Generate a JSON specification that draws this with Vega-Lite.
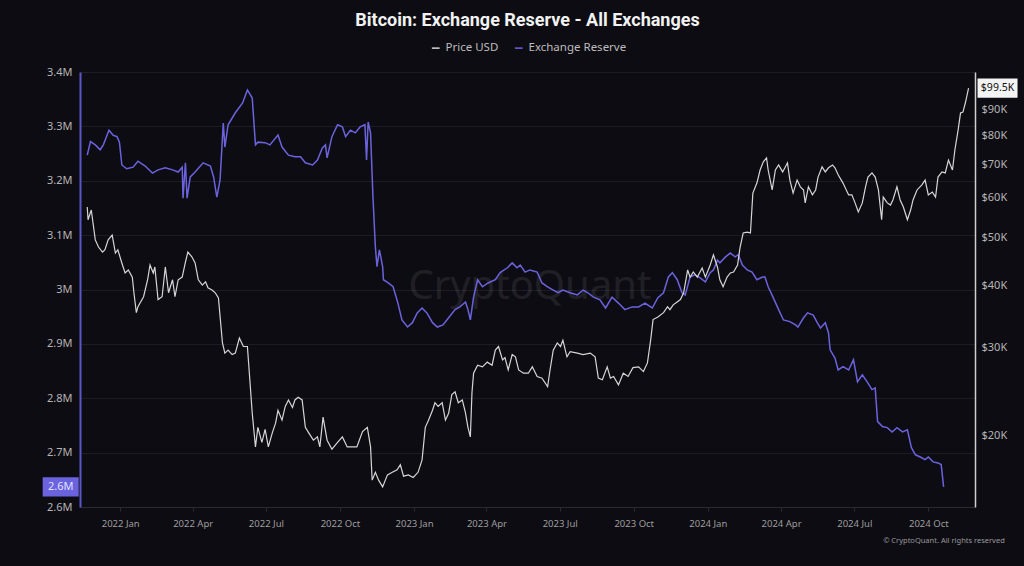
{
"$schema": "https://vega.github.io/schema/vega-lite/v6.json",
"width": 895, "height": 435,
"autosize": {"type": "none"},
"padding": {"left": 80, "top": 72, "right": 49, "bottom": 59},
"background": "#0d0c12",
"title": {"text": "Bitcoin: Exchange Reserve - All Exchanges", "color": "#f2f2f2", "fontSize": 18, "font": "Roboto", "fontWeight": "bold", "anchor": "middle", "offset": 12},
"config": {"view": {"stroke": null}},
"datasets": {
"r": [
{"t":"2021-11-21","v":3247000},{"t":"2021-11-25","v":3272000},{"t":"2021-12-01","v":3266000},{"t":"2021-12-07","v":3257000},{"t":"2021-12-11","v":3266000},{"t":"2021-12-18","v":3293000},{"t":"2021-12-23","v":3284000},{"t":"2021-12-28","v":3281000},{"t":"2021-12-31","v":3271000},
{"t":"2022-01-03","v":3229000},{"t":"2022-01-09","v":3222000},{"t":"2022-01-17","v":3225000},{"t":"2022-01-23","v":3236000},{"t":"2022-02-01","v":3227000},{"t":"2022-02-10","v":3214000},{"t":"2022-02-17","v":3220000},{"t":"2022-02-26","v":3224000},{"t":"2022-03-07","v":3220000},{"t":"2022-03-14","v":3216000},{"t":"2022-03-19","v":3225000},{"t":"2022-03-20","v":3168000},{"t":"2022-03-23","v":3233000},{"t":"2022-03-25","v":3168000},{"t":"2022-03-29","v":3207000},{"t":"2022-04-04","v":3216000},{"t":"2022-04-14","v":3233000},{"t":"2022-04-23","v":3227000},{"t":"2022-04-27","v":3207000},{"t":"2022-05-01","v":3170000},{"t":"2022-05-05","v":3201000},{"t":"2022-05-09","v":3306000},{"t":"2022-05-11","v":3262000},{"t":"2022-05-15","v":3303000},{"t":"2022-05-24","v":3325000},{"t":"2022-06-02","v":3343000},{"t":"2022-06-08","v":3367000},{"t":"2022-06-14","v":3352000},{"t":"2022-06-18","v":3266000},{"t":"2022-06-21","v":3271000},{"t":"2022-06-30","v":3270000},{"t":"2022-07-06","v":3266000},{"t":"2022-07-16","v":3284000},{"t":"2022-07-21","v":3262000},{"t":"2022-07-29","v":3247000},{"t":"2022-08-06","v":3244000},{"t":"2022-08-13","v":3244000},{"t":"2022-08-19","v":3233000},{"t":"2022-08-28","v":3229000},{"t":"2022-09-03","v":3238000},{"t":"2022-09-09","v":3260000},{"t":"2022-09-13","v":3266000},{"t":"2022-09-15","v":3242000},{"t":"2022-09-21","v":3281000},{"t":"2022-09-28","v":3303000},{"t":"2022-10-04","v":3299000},{"t":"2022-10-08","v":3281000},{"t":"2022-10-14","v":3293000},{"t":"2022-10-20","v":3288000},{"t":"2022-10-26","v":3299000},{"t":"2022-11-01","v":3303000},{"t":"2022-11-03","v":3238000},{"t":"2022-11-05","v":3308000},{"t":"2022-11-08","v":3288000},{"t":"2022-11-11","v":3170000},{"t":"2022-11-14","v":3078000},{"t":"2022-11-16","v":3042000},{"t":"2022-11-19","v":3073000},{"t":"2022-11-23","v":3042000},{"t":"2022-11-24","v":3018000},{"t":"2022-11-30","v":3012000},{"t":"2022-12-06","v":3005000},{"t":"2022-12-12","v":2975000},{"t":"2022-12-17","v":2944000},{"t":"2022-12-24","v":2931000},{"t":"2022-12-30","v":2939000},
{"t":"2023-01-05","v":2957000},{"t":"2023-01-11","v":2966000},{"t":"2023-01-17","v":2957000},{"t":"2023-01-24","v":2939000},{"t":"2023-01-30","v":2931000},{"t":"2023-02-06","v":2935000},{"t":"2023-02-13","v":2948000},{"t":"2023-02-21","v":2963000},{"t":"2023-02-27","v":2968000},{"t":"2023-03-06","v":2977000},{"t":"2023-03-09","v":2963000},{"t":"2023-03-12","v":2944000},{"t":"2023-03-16","v":2986000},{"t":"2023-03-21","v":3018000},{"t":"2023-03-27","v":3005000},{"t":"2023-04-03","v":3012000},{"t":"2023-04-12","v":3018000},{"t":"2023-04-18","v":3031000},{"t":"2023-04-27","v":3040000},{"t":"2023-05-03","v":3049000},{"t":"2023-05-09","v":3040000},{"t":"2023-05-13","v":3045000},{"t":"2023-05-19","v":3032000},{"t":"2023-05-25","v":3036000},{"t":"2023-06-03","v":3032000},{"t":"2023-06-09","v":3012000},{"t":"2023-06-16","v":3005000},{"t":"2023-06-23","v":2999000},{"t":"2023-06-29","v":2994000},{"t":"2023-07-05","v":2999000},{"t":"2023-07-14","v":2994000},{"t":"2023-07-23","v":2990000},{"t":"2023-07-30","v":2999000},{"t":"2023-08-05","v":2994000},{"t":"2023-08-12","v":2986000},{"t":"2023-08-20","v":2981000},{"t":"2023-08-27","v":2966000},{"t":"2023-09-04","v":2986000},{"t":"2023-09-12","v":2975000},{"t":"2023-09-20","v":2963000},{"t":"2023-09-29","v":2968000},{"t":"2023-10-07","v":2968000},{"t":"2023-10-15","v":2975000},{"t":"2023-10-24","v":2966000},{"t":"2023-10-31","v":2985000},{"t":"2023-11-07","v":2994000},{"t":"2023-11-13","v":3023000},{"t":"2023-11-18","v":3031000},{"t":"2023-11-24","v":3018000},{"t":"2023-11-30","v":2994000},{"t":"2023-12-04","v":2990000},{"t":"2023-12-10","v":3023000},{"t":"2023-12-16","v":3027000},{"t":"2023-12-23","v":3021000},{"t":"2023-12-29","v":3014000},
{"t":"2024-01-04","v":3031000},{"t":"2024-01-08","v":3036000},{"t":"2024-01-13","v":3054000},{"t":"2024-01-16","v":3049000},{"t":"2024-01-23","v":3060000},{"t":"2024-01-29","v":3067000},{"t":"2024-02-04","v":3060000},{"t":"2024-02-08","v":3064000},{"t":"2024-02-13","v":3045000},{"t":"2024-02-19","v":3036000},{"t":"2024-02-25","v":3032000},{"t":"2024-03-02","v":3018000},{"t":"2024-03-09","v":3023000},{"t":"2024-03-12","v":3023000},{"t":"2024-03-16","v":3005000},{"t":"2024-03-22","v":2986000},{"t":"2024-03-29","v":2963000},{"t":"2024-04-04","v":2944000},{"t":"2024-04-12","v":2941000},{"t":"2024-04-19","v":2935000},{"t":"2024-04-22","v":2931000},{"t":"2024-04-29","v":2948000},{"t":"2024-05-04","v":2957000},{"t":"2024-05-11","v":2953000},{"t":"2024-05-16","v":2939000},{"t":"2024-05-20","v":2929000},{"t":"2024-05-26","v":2939000},{"t":"2024-05-30","v":2920000},{"t":"2024-06-01","v":2889000},{"t":"2024-06-07","v":2874000},{"t":"2024-06-11","v":2852000},{"t":"2024-06-17","v":2858000},{"t":"2024-06-24","v":2852000},{"t":"2024-06-30","v":2871000},{"t":"2024-07-05","v":2830000},{"t":"2024-07-11","v":2843000},{"t":"2024-07-17","v":2830000},{"t":"2024-07-23","v":2816000},{"t":"2024-07-27","v":2819000},{"t":"2024-07-30","v":2757000},{"t":"2024-08-05","v":2748000},{"t":"2024-08-11","v":2746000},{"t":"2024-08-17","v":2738000},{"t":"2024-08-23","v":2746000},{"t":"2024-08-30","v":2738000},{"t":"2024-09-05","v":2742000},{"t":"2024-09-10","v":2709000},{"t":"2024-09-15","v":2696000},{"t":"2024-09-21","v":2692000},{"t":"2024-09-27","v":2687000},{"t":"2024-10-01","v":2692000},{"t":"2024-10-07","v":2683000},{"t":"2024-10-13","v":2681000},{"t":"2024-10-17","v":2678000},{"t":"2024-10-20","v":2637000}
],
"p": [
{"t":"2021-11-21","v":57500},{"t":"2021-11-22","v":54200},{"t":"2021-11-26","v":56700},{"t":"2021-12-01","v":49400},{"t":"2021-12-05","v":47800},{"t":"2021-12-10","v":46700},{"t":"2021-12-13","v":47200},{"t":"2021-12-17","v":49400},{"t":"2021-12-22","v":50500},{"t":"2021-12-26","v":46500},{"t":"2021-12-29","v":47200},
{"t":"2022-01-03","v":44400},{"t":"2022-01-07","v":42400},{"t":"2022-01-11","v":43000},{"t":"2022-01-16","v":41600},{"t":"2022-01-18","v":38700},{"t":"2022-01-21","v":35300},{"t":"2022-01-23","v":36300},{"t":"2022-01-30","v":38000},{"t":"2022-02-04","v":41100},{"t":"2022-02-07","v":44000},{"t":"2022-02-11","v":42400},{"t":"2022-02-13","v":43600},{"t":"2022-02-17","v":37500},{"t":"2022-02-22","v":38000},{"t":"2022-02-26","v":43600},{"t":"2022-03-02","v":38700},{"t":"2022-03-07","v":41100},{"t":"2022-03-10","v":38000},{"t":"2022-03-14","v":41100},{"t":"2022-03-19","v":41600},{"t":"2022-03-23","v":44600},{"t":"2022-03-26","v":46700},{"t":"2022-03-31","v":45700},{"t":"2022-04-04","v":44400},{"t":"2022-04-08","v":41100},{"t":"2022-04-13","v":40100},{"t":"2022-04-17","v":40700},{"t":"2022-04-20","v":39600},{"t":"2022-04-25","v":39200},{"t":"2022-04-29","v":38700},{"t":"2022-05-03","v":37800},{"t":"2022-05-08","v":30700},{"t":"2022-05-11","v":29300},{"t":"2022-05-15","v":29700},{"t":"2022-05-20","v":29100},{"t":"2022-05-24","v":29300},{"t":"2022-05-29","v":31400},{"t":"2022-06-03","v":30200},{"t":"2022-06-08","v":30200},{"t":"2022-06-11","v":25900},{"t":"2022-06-14","v":22200},{"t":"2022-06-18","v":19000},{"t":"2022-06-21","v":20800},{"t":"2022-06-26","v":19400},{"t":"2022-06-30","v":20600},{"t":"2022-07-04","v":19000},{"t":"2022-07-09","v":20300},{"t":"2022-07-13","v":21200},{"t":"2022-07-16","v":22500},{"t":"2022-07-21","v":21500},{"t":"2022-07-25","v":22900},{"t":"2022-07-29","v":23600},{"t":"2022-08-03","v":22800},{"t":"2022-08-06","v":23600},{"t":"2022-08-10","v":23900},{"t":"2022-08-15","v":23600},{"t":"2022-08-19","v":20800},{"t":"2022-08-23","v":20300},{"t":"2022-08-29","v":19600},{"t":"2022-09-03","v":19900},{"t":"2022-09-06","v":19000},{"t":"2022-09-10","v":21800},{"t":"2022-09-15","v":19600},{"t":"2022-09-21","v":18800},{"t":"2022-09-28","v":19400},{"t":"2022-10-04","v":19900},{"t":"2022-10-10","v":19000},{"t":"2022-10-16","v":19000},{"t":"2022-10-22","v":19000},{"t":"2022-10-29","v":20400},{"t":"2022-11-04","v":20800},{"t":"2022-11-08","v":19000},{"t":"2022-11-10","v":16300},{"t":"2022-11-14","v":16900},{"t":"2022-11-18","v":16300},{"t":"2022-11-23","v":15800},{"t":"2022-11-29","v":16700},{"t":"2022-12-05","v":16900},{"t":"2022-12-11","v":17100},{"t":"2022-12-15","v":17500},{"t":"2022-12-19","v":16600},{"t":"2022-12-25","v":16700},{"t":"2022-12-31","v":16500},
{"t":"2023-01-06","v":16900},{"t":"2023-01-11","v":17900},{"t":"2023-01-15","v":20800},{"t":"2023-01-19","v":21500},{"t":"2023-01-24","v":22500},{"t":"2023-01-27","v":23300},{"t":"2023-01-31","v":22900},{"t":"2023-02-05","v":23300},{"t":"2023-02-09","v":21500},{"t":"2023-02-13","v":22200},{"t":"2023-02-17","v":24200},{"t":"2023-02-21","v":24500},{"t":"2023-02-25","v":23300},{"t":"2023-03-02","v":23600},{"t":"2023-03-06","v":22200},{"t":"2023-03-09","v":20800},{"t":"2023-03-12","v":19900},{"t":"2023-03-14","v":24400},{"t":"2023-03-16","v":26700},{"t":"2023-03-21","v":27700},{"t":"2023-03-27","v":27500},{"t":"2023-04-02","v":28100},{"t":"2023-04-08","v":27700},{"t":"2023-04-12","v":29700},{"t":"2023-04-16","v":30200},{"t":"2023-04-21","v":28400},{"t":"2023-04-24","v":28700},{"t":"2023-04-28","v":27100},{"t":"2023-05-03","v":29100},{"t":"2023-05-07","v":28800},{"t":"2023-05-11","v":27100},{"t":"2023-05-17","v":26700},{"t":"2023-05-23","v":26700},{"t":"2023-05-28","v":27500},{"t":"2023-06-03","v":26300},{"t":"2023-06-09","v":26100},{"t":"2023-06-16","v":25100},{"t":"2023-06-19","v":27100},{"t":"2023-06-23","v":29700},{"t":"2023-06-28","v":30700},{"t":"2023-07-02","v":30200},{"t":"2023-07-05","v":31100},{"t":"2023-07-10","v":28800},{"t":"2023-07-14","v":29500},{"t":"2023-07-23","v":29300},{"t":"2023-07-30","v":29100},{"t":"2023-08-08","v":29300},{"t":"2023-08-14","v":28800},{"t":"2023-08-18","v":26100},{"t":"2023-08-23","v":25900},{"t":"2023-08-29","v":27500},{"t":"2023-09-02","v":26100},{"t":"2023-09-06","v":26300},{"t":"2023-09-12","v":25300},{"t":"2023-09-18","v":26700},{"t":"2023-09-24","v":26300},{"t":"2023-09-30","v":27400},{"t":"2023-10-07","v":27500},{"t":"2023-10-13","v":26900},{"t":"2023-10-18","v":28000},{"t":"2023-10-22","v":31100},{"t":"2023-10-25","v":34200},{"t":"2023-10-31","v":34600},{"t":"2023-11-07","v":35300},{"t":"2023-11-12","v":36300},{"t":"2023-11-15","v":35800},{"t":"2023-11-19","v":36600},{"t":"2023-11-24","v":37100},{"t":"2023-11-28","v":37500},{"t":"2023-12-02","v":38700},{"t":"2023-12-07","v":43000},{"t":"2023-12-10","v":41600},{"t":"2023-12-14","v":42600},{"t":"2023-12-19","v":41600},{"t":"2023-12-25","v":43400},{"t":"2023-12-29","v":41600},
{"t":"2024-01-04","v":44000},{"t":"2024-01-08","v":46100},{"t":"2024-01-13","v":43600},{"t":"2024-01-16","v":41100},{"t":"2024-01-20","v":39800},{"t":"2024-01-25","v":41600},{"t":"2024-01-29","v":42400},{"t":"2024-02-02","v":42600},{"t":"2024-02-07","v":44000},{"t":"2024-02-10","v":47600},{"t":"2024-02-14","v":51000},{"t":"2024-02-19","v":51200},{"t":"2024-02-23","v":51000},{"t":"2024-02-26","v":61300},{"t":"2024-03-02","v":64200},{"t":"2024-03-06","v":68200},{"t":"2024-03-10","v":70800},{"t":"2024-03-14","v":72100},{"t":"2024-03-16","v":68200},{"t":"2024-03-21","v":62200},{"t":"2024-03-25","v":68200},{"t":"2024-03-29","v":69800},{"t":"2024-04-03","v":67600},{"t":"2024-04-09","v":70500},{"t":"2024-04-12","v":65100},{"t":"2024-04-16","v":61300},{"t":"2024-04-21","v":65100},{"t":"2024-04-25","v":63100},{"t":"2024-04-29","v":62200},{"t":"2024-05-01","v":58600},{"t":"2024-05-05","v":63100},{"t":"2024-05-10","v":60800},{"t":"2024-05-14","v":62200},{"t":"2024-05-17","v":66000},{"t":"2024-05-22","v":69200},{"t":"2024-05-26","v":67600},{"t":"2024-05-30","v":68900},{"t":"2024-06-04","v":69800},{"t":"2024-06-07","v":68900},{"t":"2024-06-11","v":66700},{"t":"2024-06-17","v":64200},{"t":"2024-06-24","v":60800},{"t":"2024-06-28","v":60800},{"t":"2024-07-02","v":58600},{"t":"2024-07-06","v":56200},{"t":"2024-07-11","v":58600},{"t":"2024-07-15","v":63100},{"t":"2024-07-18","v":66000},{"t":"2024-07-23","v":67300},{"t":"2024-07-27","v":66000},{"t":"2024-07-31","v":62200},{"t":"2024-08-04","v":54200},{"t":"2024-08-06","v":60200},{"t":"2024-08-11","v":58600},{"t":"2024-08-15","v":58000},{"t":"2024-08-18","v":59400},{"t":"2024-08-23","v":63100},{"t":"2024-08-27","v":59400},{"t":"2024-08-31","v":57500},{"t":"2024-09-05","v":54200},{"t":"2024-09-09","v":56700},{"t":"2024-09-12","v":59400},{"t":"2024-09-17","v":62200},{"t":"2024-09-23","v":63700},{"t":"2024-09-27","v":65100},{"t":"2024-10-01","v":60800},{"t":"2024-10-06","v":61600},{"t":"2024-10-10","v":60200},{"t":"2024-10-13","v":66000},{"t":"2024-10-18","v":67600},{"t":"2024-10-22","v":67300},{"t":"2024-10-26","v":71400},{"t":"2024-10-31","v":68200},{"t":"2024-11-03","v":74800},{"t":"2024-11-07","v":82000},{"t":"2024-11-10","v":88700},{"t":"2024-11-13","v":89100},{"t":"2024-11-16","v":92900},{"t":"2024-11-20","v":99500}
]
},
"layer": [
{
"data": {"name": "r"},
"encoding": {
"x": {"field": "t", "type": "temporal", "scale": {"type": "utc", "domain": [{"year": 2021, "month": 11, "date": 12, "utc": true}, {"year": 2024, "month": 11, "date": 28, "utc": true}]}, "axis": {"title": null, "format": "%Y %b", "tickCount": {"interval": "month", "step": 3}, "labelColor": "#9e9e9e", "labelFontSize": 9.5, "labelFont": "Noto Sans", "domainColor": "#2b2a33", "tickColor": "#2b2a33", "tickSize": 4, "labelPadding": 7, "grid": false}},
"y": {"field": "v", "type": "quantitative", "scale": {"domain": [2600000, 3400000], "zero": false, "nice": false}, "axis": {"title": null, "orient": "left", "values": [2600000, 2700000, 2800000, 2900000, 3000000, 3100000, 3200000, 3300000, 3400000], "format": ".2~s", "labelColor": "#b5b5b5", "labelFontSize": 11, "labelFont": "Noto Sans", "domainColor": "#5d56c9", "domainWidth": 2, "ticks": false, "labelPadding": 8, "grid": true, "gridColor": "#1d1c25", "gridWidth": 1}}
},
"layer": [
{"transform": [{"filter": "datum.v == 2637000"}],
 "mark": {"type": "text", "color": "#ffffff", "opacity": 0.08, "fontSize": 40, "font": "Noto Sans", "clip": false},
 "encoding": {"x": {"datum": {"year": 2023, "month": 5, "date": 25, "utc": true}}, "y": {"datum": 3005000}, "text": {"value": "CryptoQuant"}}},
{"transform": [{"filter": "datum.v == 2637000"}],
 "mark": {"type": "text", "color": "#9a9a9a", "fontSize": 7.5, "font": "Noto Sans", "align": "right", "clip": false},
 "encoding": {"x": {"datum": {"year": 2025, "month": 1, "date": 4, "utc": true}}, "y": {"datum": 2537500}, "text": {"value": "© CryptoQuant. All rights reserved"}}},
{"mark": {"type": "line", "strokeWidth": 1.5, "clip": false},
 "encoding": {"color": {"datum": "Exchange Reserve", "scale": {"domain": ["Price USD", "Exchange Reserve"], "range": ["#d6d6d6", "#6b63de"]}, "legend": {"title": null, "orient": "none", "legendX": 350, "legendY": -30, "direction": "horizontal", "symbolType": "stroke", "symbolStrokeWidth": 1.5, "symbolSize": 60, "labelColor": "#bdbdbd", "labelFontSize": 11.5, "labelFont": "Noto Sans", "columnPadding": 12}}}},
{"transform": [{"filter": "datum.v == 2637000"}],
 "mark": {"type": "point", "shape": "M-1,-0.53H1V0.53H-1Z", "size": 1296, "filled": true, "color": "#6b63de", "opacity": 1, "clip": false},
 "encoding": {"x": {"datum": {"year": 2021, "month": 10, "date": 19, "utc": true}}}},
{"transform": [{"filter": "datum.v == 2637000"}],
 "mark": {"type": "text", "color": "#e2e0ff", "fontSize": 11, "font": "Noto Sans", "clip": false},
 "encoding": {"x": {"datum": {"year": 2021, "month": 10, "date": 19, "utc": true}}, "text": {"value": "2.6M"}}}
]
},
{
"data": {"name": "p"},
"encoding": {
"x": {"field": "t", "type": "temporal"},
"y": {"field": "v", "type": "quantitative", "scale": {"type": "log", "domain": [14400, 107200], "nice": false}, "axis": {"title": null, "orient": "right", "values": [20000, 30000, 40000, 50000, 60000, 70000, 80000, 90000], "labelExpr": "'$' + (datum.value / 1000) + 'K'", "labelColor": "#b5b5b5", "labelFontSize": 11, "labelFont": "Noto Sans", "domainColor": "#cfcfcf", "domainWidth": 1.5, "ticks": false, "labelPadding": 6, "grid": false}}
},
"layer": [
{"mark": {"type": "line", "strokeWidth": 1.2, "clip": false},
 "encoding": {"color": {"datum": "Price USD"}}},
{"transform": [{"filter": "datum.v == 99500"}],
 "mark": {"type": "point", "shape": "M-1,-0.48H1V0.48H-1Z", "size": 1600, "filled": true, "color": "#f4f4f4", "opacity": 1, "clip": false},
 "encoding": {"x": {"datum": {"year": 2024, "month": 12, "date": 26, "utc": true}}}},
{"transform": [{"filter": "datum.v == 99500"}],
 "mark": {"type": "text", "color": "#111111", "fontSize": 10.5, "font": "Noto Sans", "clip": false},
 "encoding": {"x": {"datum": {"year": 2024, "month": 12, "date": 26, "utc": true}}, "text": {"value": "$99.5K"}}}
]
}
],
"resolve": {"scale": {"y": "independent"}}
}
